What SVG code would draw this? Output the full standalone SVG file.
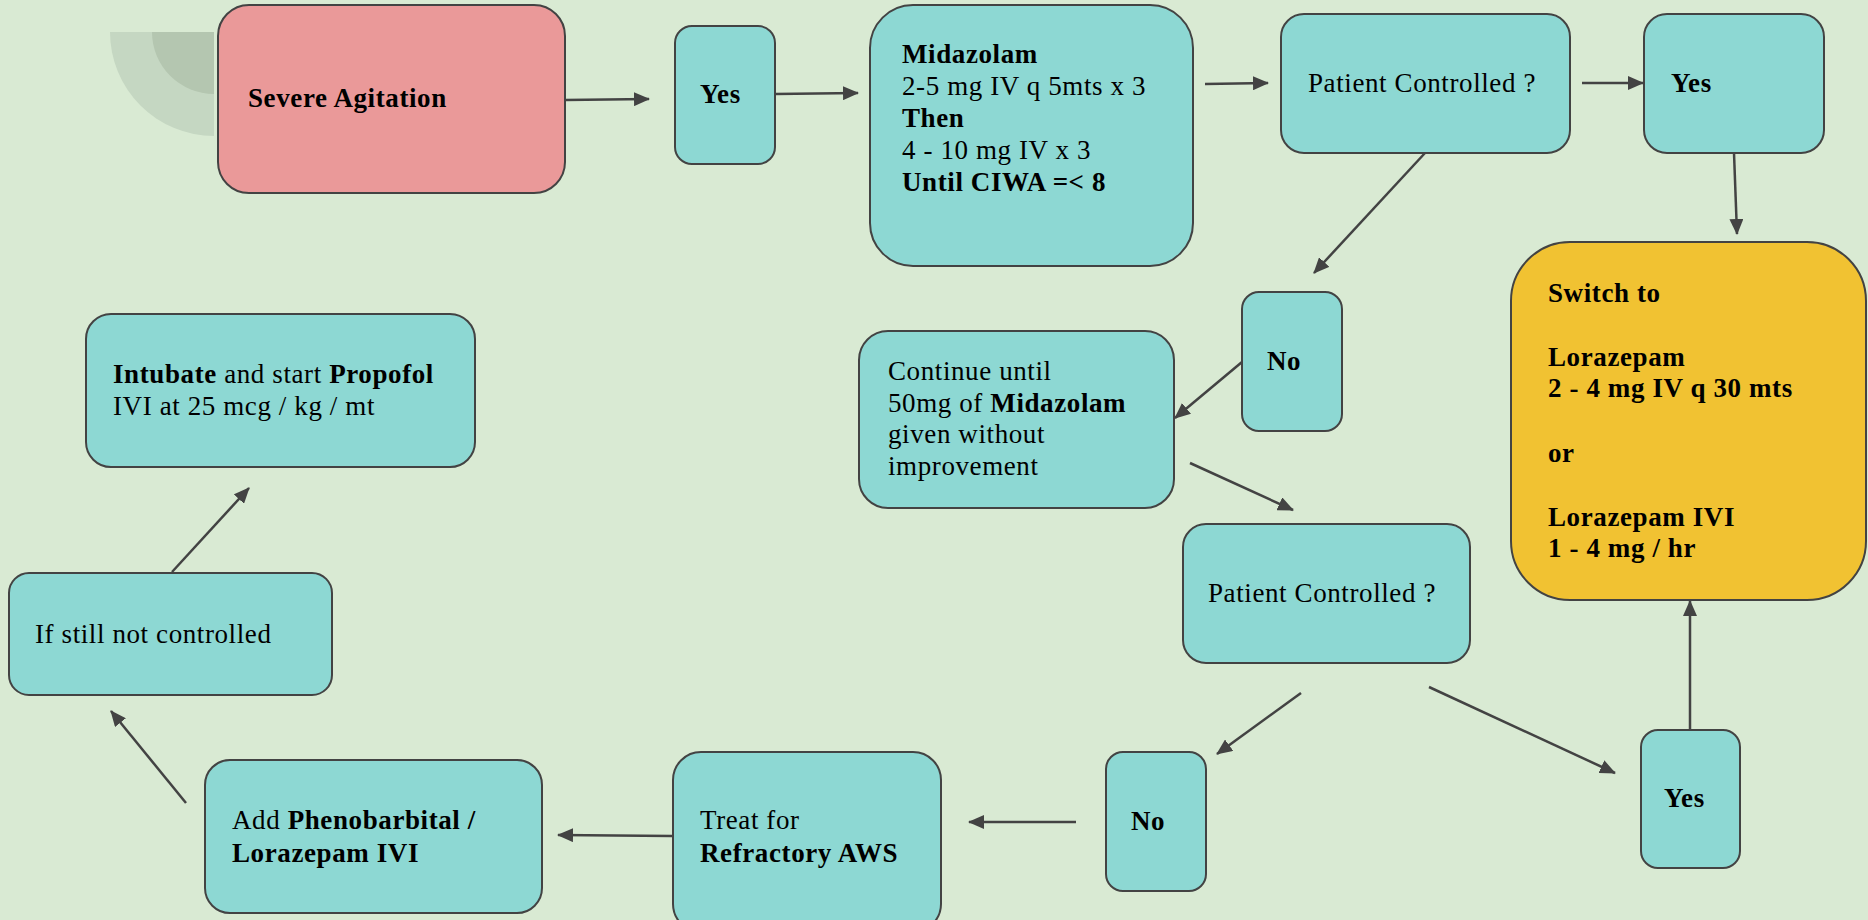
<svg xmlns="http://www.w3.org/2000/svg" width="1868" height="920" viewBox="0 0 1868 920">
<defs>
<style>
.bg{fill:#d9ead3}
.n{fill:#8dd8d3;stroke:#434343;stroke-width:2}
.pink{fill:#ea9999;stroke:#434343;stroke-width:2}
.yel{fill:#f1c232;stroke:#434343;stroke-width:2}
text{font-family:"Liberation Serif",serif;font-size:27px;fill:#000;letter-spacing:0.6px}
.b{font-weight:bold}
.c line{stroke:#434343;stroke-width:2.5;marker-end:url(#ah)}
</style>
<marker id="ah" markerUnits="userSpaceOnUse" markerWidth="16" markerHeight="14" refX="15" refY="7" orient="auto">
<path d="M0,0 L16,7 L0,14 z" fill="#434343"/>
</marker>
</defs>
<rect class="bg" x="0" y="0" width="1868" height="920"/>
<g id="deco">
<path d="M214,32 L110,32 A104,104 0 0 0 214,136 Z" fill="#c5d7c2"/>
<path d="M214,32 L152,32 A62,62 0 0 0 214,94 Z" fill="#b4c6b0"/>
</g>
<g id="severe">
<rect class="pink" x="218" y="5" width="347" height="188" rx="31"/>
<text class="b" x="248" y="107">Severe Agitation</text>
</g>
<g id="yes1">
<rect class="n" x="675" y="26" width="100" height="138" rx="17"/>
<text class="b" x="700" y="103">Yes</text>
</g>
<g id="midazolam">
<rect class="n" x="870" y="5" width="323" height="261" rx="43"/>
<text x="902" y="63"><tspan class="b">Midazolam</tspan><tspan x="902" y="95">2-5 mg IV q 5mts x 3</tspan><tspan class="b" x="902" y="127">Then</tspan><tspan x="902" y="159">4 - 10 mg IV x 3</tspan><tspan class="b" x="902" y="191">Until CIWA =&lt; 8</tspan></text>
</g>
<g id="pc1">
<rect class="n" x="1281" y="14" width="289" height="139" rx="23"/>
<text x="1308" y="92">Patient Controlled ?</text>
</g>
<g id="yes2">
<rect class="n" x="1644" y="14" width="180" height="139" rx="23"/>
<text class="b" x="1671" y="92">Yes</text>
</g>
<g id="switch">
<rect class="yel" x="1511" y="242" width="355" height="358" rx="59"/>
<text class="b" x="1548" y="302">Switch to<tspan x="1548" y="366">Lorazepam</tspan><tspan x="1548" y="397">2 - 4 mg IV q 30 mts</tspan><tspan x="1548" y="462">or</tspan><tspan x="1548" y="526">Lorazepam IVI</tspan><tspan x="1548" y="557">1 - 4 mg / hr</tspan></text>
</g>
<g id="no1">
<rect class="n" x="1242" y="292" width="100" height="139" rx="17"/>
<text class="b" x="1267" y="370">No</text>
</g>
<g id="continue">
<rect class="n" x="859" y="331" width="315" height="177" rx="29"/>
<text x="888" y="380">Continue until<tspan x="888" y="412">50mg of </tspan><tspan class="b">Midazolam</tspan><tspan x="888" y="443">given without</tspan><tspan x="888" y="475">improvement</tspan></text>
</g>
<g id="pc2">
<rect class="n" x="1183" y="524" width="287" height="139" rx="23"/>
<text x="1208" y="602">Patient Controlled ?</text>
</g>
<g id="yes3">
<rect class="n" x="1641" y="730" width="99" height="138" rx="17"/>
<text class="b" x="1664" y="807">Yes</text>
</g>
<g id="no2">
<rect class="n" x="1106" y="752" width="100" height="139" rx="17"/>
<text class="b" x="1131" y="830">No</text>
</g>
<g id="treat">
<rect class="n" x="673" y="752" width="268" height="180" rx="28"/>
<text x="700" y="829">Treat for<tspan class="b" x="700" y="862">Refractory AWS</tspan></text>
</g>
<g id="add">
<rect class="n" x="205" y="760" width="337" height="153" rx="25"/>
<text x="232" y="829">Add <tspan class="b">Phenobarbital /</tspan><tspan class="b" x="232" y="862">Lorazepam IVI</tspan></text>
</g>
<g id="ifstill">
<rect class="n" x="9" y="573" width="323" height="122" rx="20"/>
<text x="35" y="643">If still not controlled</text>
</g>
<g id="intubate">
<rect class="n" x="86" y="314" width="389" height="153" rx="25"/>
<text x="113" y="383"><tspan class="b">Intubate</tspan> and start <tspan class="b">Propofol</tspan><tspan x="113" y="415">IVI at 25 mcg / kg / mt</tspan></text>
</g>
<g class="c" id="connectors">
<line x1="565" y1="100" x2="649" y2="99"/>
<line x1="775" y1="94" x2="858" y2="93"/>
<line x1="1205" y1="84" x2="1268" y2="83"/>
<line x1="1582" y1="83" x2="1643" y2="83"/>
<line x1="1734" y1="153" x2="1737" y2="234"/>
<line x1="1425" y1="153" x2="1314" y2="273"/>
<line x1="1242" y1="362" x2="1175" y2="418"/>
<line x1="1190" y1="463" x2="1293" y2="510"/>
<line x1="1301" y1="693" x2="1217" y2="754"/>
<line x1="1429" y1="687" x2="1615" y2="773"/>
<line x1="1690" y1="730" x2="1690" y2="601"/>
<line x1="1076" y1="822" x2="969" y2="822"/>
<line x1="672" y1="836" x2="558" y2="835"/>
<line x1="186" y1="803" x2="111" y2="711"/>
<line x1="172" y1="572" x2="249" y2="488"/>
</g>
</svg>
